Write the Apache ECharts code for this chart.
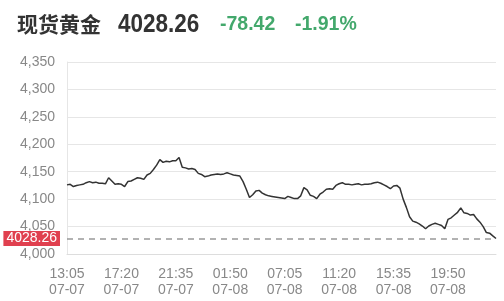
<!DOCTYPE html>
<html>
<head>
<meta charset="utf-8">
<script src="https://cdn.jsdelivr.net/npm/echarts@6/dist/echarts.min.js"></script>
<style>
  html, body { margin: 0; padding: 0; background: #fff; }
  #chart { width: 504px; height: 301px; }
</style>
</head>
<body>
<div id="chart"></div>
<script>
  // 现货黄金 每15分钟价格
  var prices = [
    4126, 4127, 4123, 4125, 4126, 4127, 4130, 4132, 4130, 4131,
    4129, 4129, 4128, 4139, 4133, 4127, 4128, 4127, 4123, 4132,
    4133, 4136, 4139, 4138, 4136, 4144, 4147, 4154, 4162, 4172,
    4167, 4169, 4168, 4170, 4170, 4176, 4158, 4157, 4155, 4156,
    4154, 4147, 4145, 4141, 4142, 4144, 4145, 4146, 4145, 4146,
    4148, 4146, 4144, 4143, 4142, 4132, 4118, 4103, 4108, 4115,
    4116, 4111, 4108, 4106, 4105, 4104, 4103, 4102, 4101, 4105,
    4103, 4101, 4101, 4106, 4121, 4117, 4107, 4105, 4101, 4109,
    4113, 4118, 4119, 4118, 4125, 4128, 4130, 4127, 4127, 4126,
    4127, 4128, 4126, 4127, 4127, 4128, 4130, 4131, 4129, 4126,
    4123, 4119, 4124, 4125, 4120, 4100, 4085, 4068, 4060, 4058,
    4055, 4051, 4046, 4051, 4054, 4056, 4054, 4052, 4046, 4063,
    4066, 4071, 4076, 4084, 4075, 4074, 4071, 4072, 4064, 4058,
    4050, 4039, 4038, 4033, 4028.26
  ];
  var lastPrice = 4028.26;
  var change = '-78.42';
  var changePct = '-1.91%';

  // 时间轴：13:05 起每15分钟，05:00-06:00 休市
  var times = [];
  (function () {
    var day = 7, min = 13 * 60 + 5;
    while (times.length < prices.length) {
      var h = Math.floor(min / 60), m = min % 60;
      if (h !== 5) {
        times.push('07-0' + day + ' ' + (h < 10 ? '0' : '') + h + ':' + (m < 10 ? '0' : '') + m);
      }
      min += 15;
      if (min >= 24 * 60) { min -= 24 * 60; day++; }
    }
  })();

  var myChart = echarts.init(document.getElementById('chart'));
  var option = {
    animation: false,
    backgroundColor: '#fff',
    graphic: [
      { type: 'text', x: 17, y: 24, style: { text: '现货黄金', font: 'bold 21px "Noto Sans CJK SC"', fill: '#333', verticalAlign: 'middle' } },
      { type: 'text', x: 118, y: 25, scaleX: 0.9, style: { text: String(lastPrice), font: 'bold 25px "Liberation Sans"', fill: '#333', verticalAlign: 'middle' } },
      { type: 'text', x: 220, y: 25, style: { text: change, font: 'bold 19.5px "Liberation Sans"', fill: '#43a86c', verticalAlign: 'middle' } },
      { type: 'text', x: 295, y: 25, style: { text: changePct, font: 'bold 19.5px "Liberation Sans"', fill: '#43a86c', verticalAlign: 'middle' } }
    ],
    grid: { left: 67, right: 8, top: 62, bottom: 47 },
    xAxis: {
      type: 'category',
      boundaryGap: false,
      data: times,
      axisLine: { lineStyle: { color: '#ddd' } },
      axisTick: { show: false },
      axisLabel: {
        interval: 16,
        color: '#888',
        fontSize: 14,
        lineHeight: 16,
        margin: 12,
        formatter: function (v) {
          var p = v.split(' ');
          return p[1] + '\n' + p[0];
        }
      },
      splitLine: { show: false }
    },
    yAxis: {
      type: 'value',
      min: 4000,
      max: 4350,
      interval: 50,
      axisLine: { show: true, lineStyle: { color: '#e6e6e6' } },
      axisTick: { show: false },
      axisLabel: {
        color: '#888',
        fontSize: 14,
        margin: 12,
        formatter: function (v) {
          var s = String(v);
          return s.slice(0, 1) + ',' + s.slice(1);
        }
      },
      splitLine: { lineStyle: { color: '#e6e6e6' } }
    },
    series: [{
      type: 'line',
      data: prices,
      symbol: 'none',
      lineStyle: { color: '#333', width: 1.5 },
      markLine: {
        silent: true,
        symbol: 'none',
        lineStyle: { color: '#999', type: [6, 5], width: 1.5 },
        label: {
          position: 'start',
          distance: 7,
          formatter: String(lastPrice),
          color: '#fff',
          fontSize: 14,
          backgroundColor: '#e0404f',
          padding: [1, 3, 0, 3]
        },
        data: [{ yAxis: lastPrice }]
      }
    }]
  };
  myChart.setOption(option);
</script>
</body>
</html>
